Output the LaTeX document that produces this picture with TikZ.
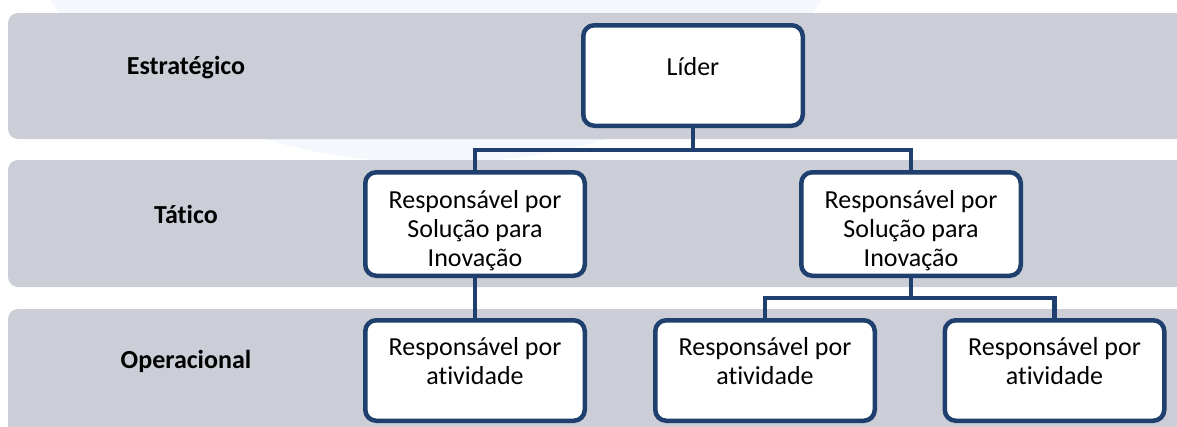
\documentclass[tikz,border=0pt]{standalone}
\usepackage{fontspec}
\setmainfont{Carlito}[Ligatures=NoCommon]

\begin{document}
\begin{tikzpicture}[x=1pt,y=-1pt]

    \definecolor{bandgray}{RGB}{203,206,215}
    \definecolor{boxblue}{RGB}{31,64,110}
    \definecolor{palebg}{RGB}{244,248,252}

    \tikzset{
        band/.style={fill=bandgray, rounded corners=10pt},
        level/.style={font=\fontsize{26}{29}\selectfont\bfseries},
        role/.style={draw=boxblue, line width=4.5pt, fill=white, rounded corners=11pt,
            minimum width=219.5pt, minimum height=100.5pt, align=center,
            font=\fontsize{26}{29}\selectfont},
        link/.style={draw=boxblue, line width=4.5pt}
    }

    \useasboundingbox (0,0) rectangle (1177,426);

    % Draw the faint background shape and the three level bands
    \fill[palebg] (436,-120) ellipse [x radius=426pt, y radius=283pt];
    \fill[band] (8,13) rectangle (1200,139);
    \fill[band] (8,160) rectangle (1200,287);
    \fill[band] (8,309) rectangle (1200,450);

    % Label the levels
    \node[level] (estrategico) at (186,68) {Estratégico};
    \node[level] (tatico) at (186,214.5) {Tático};
    \node[level] (operacional) at (186,361.5) {Operacional};

    % Draw the leader
    \node[role, text height=14pt, text depth=14pt] (lider) at (693,75.5) {Líder};

    % Draw the two tactical boxes
    \node[role, minimum height=103.5pt, text height=89pt] (tatA) at (475,224) {Responsável por\\Solução para\\Inovação};
    \node[role, minimum height=103.5pt, text height=89pt] (tatB) at (911,224) {Responsável por\\Solução para\\Inovação};

    % Draw the three operational boxes
    \node[role, text depth=20pt] (opA) at (475,370.5) {Responsável por\\atividade};
    \node[role, text depth=20pt] (opB) at (765,370.5) {Responsável por\\atividade};
    \node[role, text depth=20pt] (opC) at (1054.5,370.5) {Responsável por\\atividade};

    % Connect leader to the tactical level
    \path (lider.south) ++(0,22) coordinate (liderfork);
    \draw[link] (lider.south) -- (liderfork);
    \draw[link] (tatA.north) |- (liderfork) -| (tatB.north);

    % Connect tactical boxes to the operational level
    \draw[link] (tatA.south) -- (opA.north);
    \path (tatB.south) ++(0,20) coordinate (tatfork);
    \draw[link] (tatB.south) -- (tatfork);
    \draw[link] (opB.north) |- (tatfork) -| (opC.north);

\end{tikzpicture}
\end{document}
